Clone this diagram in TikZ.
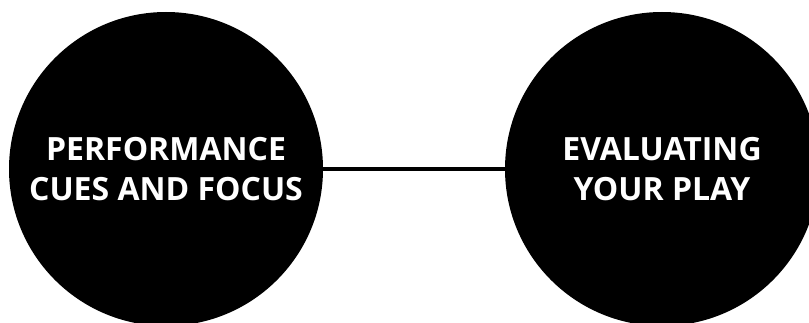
\documentclass[tikz,border=0pt]{standalone}
\usepackage{fontspec}
\setmainfont{Open Sans}
\begin{document}
\begin{tikzpicture}[x=1pt,y=1pt,
 topic/.style={circle,fill=black,text=white,minimum size=314pt,inner sep=0pt,align=center,font=\bfseries\fontsize{32}{40}\selectfont}]
 \useasboundingbox (0,0) rectangle (809,322);
 \clip (0,0) rectangle (809,322);
 \node[topic] (cues) at (166,153) {PERFORMANCE\\CUES AND FOCUS};
 \node[topic] (eval) at (662,153) {EVALUATING\\YOUR PLAY};
 \draw[line width=4pt] (cues) -- (eval);
\end{tikzpicture}
\end{document}
